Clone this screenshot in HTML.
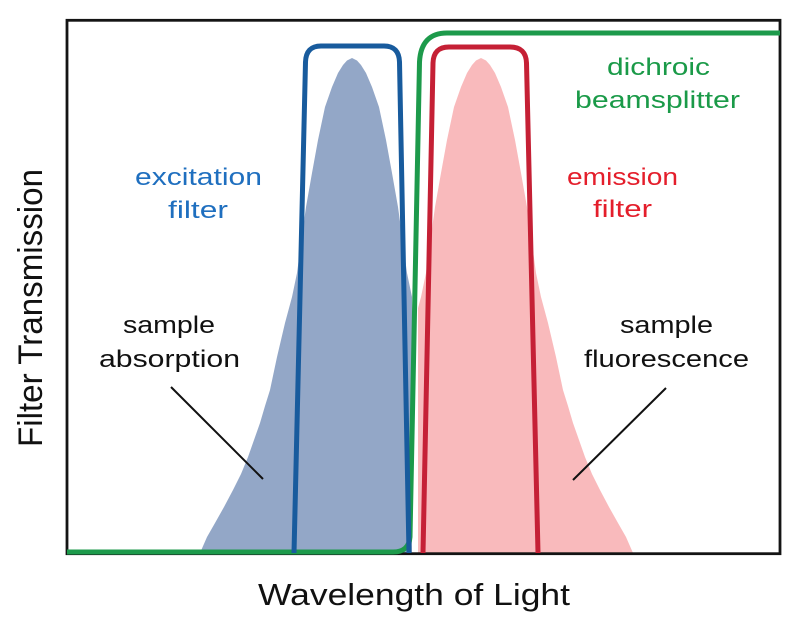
<!DOCTYPE html>
<html>
<head>
<meta charset="utf-8">
<style>
  html, body { margin:0; padding:0; background:#fff; }
  svg { display:block; }
  text { font-family: "Liberation Sans", "DejaVu Sans", sans-serif; }
</style>
</head>
<body>
<svg width="804" height="633" viewBox="0 0 804 633" xmlns="http://www.w3.org/2000/svg">
  <defs>
    <clipPath id="clipBlue"><rect x="0" y="0" width="412" height="633"/></clipPath>
    <clipPath id="clipPink"><rect x="418" y="0" width="400" height="633"/></clipPath>
  </defs>
  <rect x="0" y="0" width="804" height="633" fill="#fff"/>

  <!-- blue absorption curve (peak 352) -->
  <polygon clip-path="url(#clipBlue)" fill="#93a7c7"
    points="200,553 207,537 215,523 224,507 233,490 241,474 248,457 254,440 260,423 265,406 270,390 277,357 285,323 292,297 297,273 302,236 306,207 312,173 318,140 325,107 332,87 338,73 343,65 347,60.5 352,58 357,60.5 361,65 366,73 372,87 379,107 386,140 392,173 398,207 402,236 407,273 412,297 419,323 427,357 434,390 439,406 444,423 450,440 456,457 463,474 471,490 480,507 489,523 497,537 504,553"/>

  <!-- pink fluorescence curve (peak 481) -->
  <polygon clip-path="url(#clipPink)" fill="#f9babc"
    points="329,553 336,537 344,523 353,507 362,490 370,474 377,457 383,440 389,423 394,406 399,390 406,357 414,323 421,297 426,273 431,236 435,207 441,173 447,140 454,107 461,87 467,73 472,65 476,60.5 481,58 486,60.5 490,65 495,73 501,87 508,107 515,140 521,173 527,207 531,236 536,273 541,297 548,323 556,357 563,390 568,406 573,423 579,440 585,457 592,474 600,490 609,507 618,523 626,537 633,553"/>

  <!-- leader lines -->
  <line x1="171" y1="387" x2="263" y2="479" stroke="#111" stroke-width="2"/>
  <line x1="666" y1="388" x2="573" y2="480" stroke="#111" stroke-width="2"/>

  <!-- frame -->
  <rect x="67" y="20.3" width="713" height="533.4" fill="none" stroke="#141414" stroke-width="2.8"/>

  <!-- dichroic beamsplitter (green) -->
  <path d="M67,552 L393,552 Q409,552 410,537 L419.5,62 Q421,33 447,33 L780,33"
        fill="none" stroke="#1d9a4b" stroke-width="5" stroke-linejoin="round"/>

  <!-- excitation filter (blue) -->
  <path d="M294,553 L305.5,62 Q306,46 321,46 L384,46 Q399,46 399.5,62 L409,553"
        fill="none" stroke="#185b9d" stroke-width="5" stroke-linejoin="round"/>

  <!-- emission filter (red) -->
  <path d="M423,553 L433,63 Q433.5,47 449,47 L510,47 Q526,47 526.5,63 L538,553"
        fill="none" stroke="#c52035" stroke-width="5" stroke-linejoin="round"/>

  <!-- labels -->
  <g font-size="24">
    <text x="135" y="185" fill="#1f6fbf" textLength="127" lengthAdjust="spacingAndGlyphs">excitation</text>
    <text x="168" y="218" fill="#1f6fbf" textLength="60" lengthAdjust="spacingAndGlyphs">filter</text>

    <text x="123" y="333" fill="#111" textLength="92" lengthAdjust="spacingAndGlyphs">sample</text>
    <text x="99" y="367" fill="#111" textLength="141" lengthAdjust="spacingAndGlyphs">absorption</text>

    <text x="607" y="75" fill="#1a9a48" textLength="103" lengthAdjust="spacingAndGlyphs">dichroic</text>
    <text x="575" y="108" fill="#1a9a48" textLength="165" lengthAdjust="spacingAndGlyphs">beamsplitter</text>

    <text x="567" y="185" fill="#e41e2b" textLength="111" lengthAdjust="spacingAndGlyphs">emission</text>
    <text x="593" y="217" fill="#e41e2b" textLength="59" lengthAdjust="spacingAndGlyphs">filter</text>

    <text x="620" y="333" fill="#111" textLength="93" lengthAdjust="spacingAndGlyphs">sample</text>
    <text x="584" y="367" fill="#111" textLength="165" lengthAdjust="spacingAndGlyphs">fluorescence</text>
  </g>

  <text x="258" y="605" font-size="31" fill="#111" textLength="312" lengthAdjust="spacingAndGlyphs">Wavelength of Light</text>

  <text transform="translate(42,447) rotate(-90)" x="0" y="0" font-size="34" fill="#111" textLength="278" lengthAdjust="spacingAndGlyphs">Filter Transmission</text>
</svg>
</body>
</html>
